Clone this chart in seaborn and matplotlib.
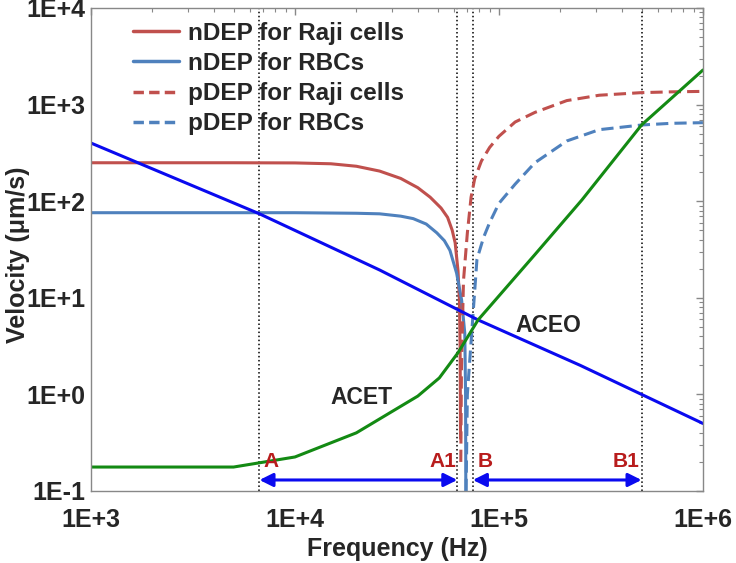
import numpy as np
import pandas as pd
import seaborn as sns
import matplotlib.pyplot as plt
from matplotlib.lines import Line2D
from matplotlib.ticker import FixedLocator, FuncFormatter, LogLocator, NullFormatter

# values (frequency in Hz, velocity in um/s)
raji_n_freq = [1e3, 5e3, 1e4, 1.5e4, 2e4, 2.6e4, 3.3e4, 4e4, 4.6e4, 5.2e4, 5.6e4, 5.9e4, 6.1e4, 6.3e4, 6.4e4, 6.45e4, 6.48e4]
raji_n_vel = [250, 250, 249, 244, 230, 205, 172, 138, 110, 85, 68, 50, 37, 19, 9.5, 3, 0.35]

rbc_n_freq = [1e3, 5e3, 1e4, 2e4, 2.6e4, 3.3e4, 3.8e4, 4.4e4, 4.96e4, 5.4e4, 5.75e4, 6.2e4, 6.56e4, 6.8e4, 6.86e4, 6.88e4]
rbc_n_vel = [76, 76, 76, 75, 74, 70, 66, 58, 47, 39, 31, 18, 9.5, 4.3, 1.0, 0.1]

raji_p_freq = [6.5e4, 6.55e4, 6.7e4, 7.0e4, 7.3e4, 7.6e4, 8.2e4, 9.0e4, 1.0e5, 1.2e5, 1.5e5, 2.15e5, 3.1e5, 5e5, 7e5, 1e6]
raji_p_vel = [0.2, 1.9, 15, 47, 110, 170, 260, 360, 470, 660, 830, 1100, 1250, 1330, 1355, 1370]

rbc_p_freq = [6.9e4, 7.0e4, 7.35e4, 7.8e4, 8.4e4, 9.0e4, 1.0e5, 1.2e5, 1.5e5, 2.15e5, 3.1e5, 5e5, 7e5, 1e6]
rbc_p_vel = [0.1, 1.0, 4.3, 25, 42, 60, 95, 150, 250, 420, 550, 615, 640, 650]

aceo_freq = [1e3, 6.7e3, 2.6e4, 7.9e4, 2.5e5, 1e6]
aceo_vel = [400, 74, 19.4, 5.9, 2.0, 0.5]

acet_freq = [1e3, 5e3, 1e4, 2e4, 4e4, 5.1e4, 6.3e4, 7.9e4, 1.5e5, 2.55e5, 5e5, 1e6]
acet_vel = [0.177, 0.177, 0.225, 0.40, 0.96, 1.48, 2.7, 5.9, 28, 103, 615, 2280]

region_edges = {'A': 6.7e3, 'A1': 6.25e4, 'B': 7.45e4, 'B1': 5.0e5}

RED = '#c0504d'
LBLUE = '#4f81bd'
DBLUE = '#0a0aef'
GREEN = '#138a13'
DARKRED = '#b81c1c'

sns.set_theme(style='white')
plt.rcParams['font.family'] = ['Liberation Sans', 'DejaVu Sans']
plt.rcParams['font.weight'] = 'bold'
plt.rcParams['axes.labelweight'] = 'bold'

fig = plt.figure(figsize=(7.36, 5.63), dpi=100)
ax = fig.add_axes([0.1236, 0.1279, 0.8315, 0.8579])

series = [
    (raji_n_freq, raji_n_vel, RED, '-'),
    (rbc_n_freq, rbc_n_vel, LBLUE, '-'),
    (raji_p_freq, raji_p_vel, RED, (0, (4, 2))),
    (rbc_p_freq, rbc_p_vel, LBLUE, (0, (4, 2))),
    (aceo_freq, aceo_vel, DBLUE, '-'),
    (acet_freq, acet_vel, GREEN, '-'),
]
for fx, vy, col, ls in series:
    df = pd.DataFrame({'f': fx, 'v': vy})
    sns.lineplot(data=df, x='f', y='v', color=col, linestyle=ls, lw=2.2, ax=ax, sort=False)

ax.set_xscale('log')
ax.set_yscale('log')
ax.set_xlim(1e3, 1e6)
ax.set_ylim(1e-1, 1e4)

for name, fx in region_edges.items():
    ax.axvline(fx, color='black', ls=':', lw=1.1, zorder=1)

arrow_y = 0.13
for a, b in (('A', 'A1'), ('B', 'B1')):
    ax.annotate('', xy=(region_edges[b], arrow_y), xytext=(region_edges[a], arrow_y),
                arrowprops=dict(arrowstyle='<|-|>', color=DBLUE, lw=2.2, mutation_scale=20,
                                shrinkA=0, shrinkB=0))

label_x = {'A': 7.6e3, 'A1': 5.3e4, 'B': 8.6e4, 'B1': 4.2e5}
for name, fx in label_x.items():
    ax.text(fx, 0.2, name, color=DARKRED, fontsize=15, fontweight='bold', ha='center', va='center')

ax.text(1.74e5, 5.2, 'ACEO', fontsize=16.5, fontweight='bold', ha='center', va='center')
ax.text(2.13e4, 0.92, 'ACET', fontsize=16.5, fontweight='bold', ha='center', va='center')

fmt = FuncFormatter(lambda v, p: f'1E{int(round(np.log10(v))):+d}')
ax.xaxis.set_major_locator(FixedLocator([1e3, 1e4, 1e5, 1e6]))
ax.yaxis.set_major_locator(FixedLocator([1e-1, 1e0, 1e1, 1e2, 1e3, 1e4]))
ax.xaxis.set_major_formatter(fmt)
ax.yaxis.set_major_formatter(fmt)
for axis in (ax.xaxis, ax.yaxis):
    axis.set_minor_locator(LogLocator(base=10, subs=np.arange(2, 10)))
    axis.set_minor_formatter(NullFormatter())

ax.tick_params(which='both', direction='in', color='#888888', top=True, right=True, labelsize=18)
ax.tick_params(which='major', length=5, width=1)
ax.tick_params(which='minor', length=3, width=0.8)
ax.tick_params(axis='x', pad=12)
ax.tick_params(axis='y', pad=4)
for lab in ax.get_xticklabels() + ax.get_yticklabels():
    lab.set_fontweight('bold')
for sp in ax.spines.values():
    sp.set_color('#888888')
    sp.set_linewidth(1.0)

ax.set_xlabel('Frequency (Hz)', fontsize=18, fontweight='bold', labelpad=4)
ax.set_ylabel('Velocity (\u03bcm/s)', fontsize=18, fontweight='bold')
ax.yaxis.set_label_coords(-0.1, 0.49)

handles = [
    Line2D([], [], color=RED, lw=2.5),
    Line2D([], [], color=LBLUE, lw=2.5),
    Line2D([], [], color=RED, lw=2.5, ls=(0, (3, 1.5))),
    Line2D([], [], color=LBLUE, lw=2.5, ls=(0, (3, 1.5))),
]
labels = ['nDEP for Raji cells', 'nDEP for RBCs', 'pDEP for Raji cells', 'pDEP for RBCs']
leg = ax.legend(handles, labels, loc='upper left', bbox_to_anchor=(0.068, 0.972), frameon=False,
                fontsize=17.5, handlelength=1.9, handletextpad=0.4, labelspacing=0.3,
                borderaxespad=0, borderpad=0)
for t in leg.get_texts():
    t.set_fontweight('bold')

fig.savefig('out.png', dpi=100)
